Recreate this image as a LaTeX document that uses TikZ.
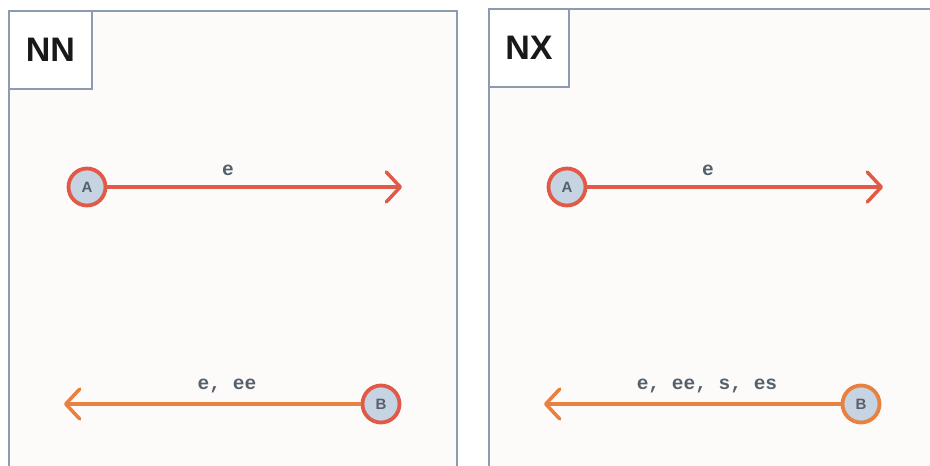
\documentclass[tikz,border=0pt]{standalone}
\usepackage{fontspec}
\setmainfont{Liberation Sans}
\newfontfamily\monof{Liberation Mono}
\usetikzlibrary{arrows.meta}
\definecolor{panelbg}{HTML}{FDFBFA}
\definecolor{panelline}{HTML}{8D9BB0}
\definecolor{redc}{HTML}{E05A47}
\definecolor{orangec}{HTML}{E8803F}
\definecolor{nodefill}{HTML}{C5D3E3}
\definecolor{txtgray}{HTML}{56606B}
\begin{document}
\begin{tikzpicture}[x=1pt,y=-1pt,
  panel/.style={draw=panelline,line width=1.3pt,fill=panelbg},
  titlebox/.style={draw=panelline,line width=1.3pt,fill=white},
  titletext/.style={font=\fontsize{34}{36}\selectfont\bfseries,text=black!90},
  vert/.style={circle,minimum size=37pt,inner sep=0pt,line width=3.8pt,fill=nodefill,text=txtgray,font=\fontsize{15}{16}\selectfont\bfseries},
  edgelbl/.style={font=\monof\fontsize{19.5}{20}\selectfont\bfseries,text=txtgray},
  link/.style={line width=3.5pt,-{Straight Barb[length=14pt,width=30pt,round]}}]
\useasboundingbox (0,0) rectangle (930,466);
\fill[white] (0,0) rectangle (930,466);
% panels
\draw[panel] (9,470) -- (9,11) -- (457,11) -- (457,470);
\draw[panel] (489,470) -- (489,9) -- (935,9);
\fill[panelbg] (490,10) rectangle (935,470);
\draw[titlebox] (9,11) rectangle (92,89);
\draw[titlebox] (489,9) rectangle (569,87);
\node[titletext] (t1) at (50.5,50) {NN};
\node[titletext] (t2) at (529,48) {NX};
% panel 1
\node[vert,draw=redc] (a1) at (87,187) {A};
\coordinate (a1e) at (402,187);
\draw[link,redc] (a1) -- (a1e);
\node[edgelbl] (l1) at (228,170) {e};
\node[vert,draw=redc] (b1) at (381,404) {B};
\coordinate (b1e) at (64,404);
\draw[link,orangec] (b1) -- (b1e);
\node[edgelbl] (l2) at (227,386) {e, ee};
% panel 2
\node[vert,draw=redc] (a2) at (567,187) {A};
\coordinate (a2e) at (883,187);
\draw[link,redc] (a2) -- (a2e);
\node[edgelbl] (l3) at (708,170) {e};
\node[vert,draw=orangec] (b2) at (861,404) {B};
\coordinate (b2e) at (544,404);
\draw[link,orangec] (b2) -- (b2e);
\node[edgelbl] (l4) at (707,386) {e, ee, s, es};
\end{tikzpicture}
\end{document}
